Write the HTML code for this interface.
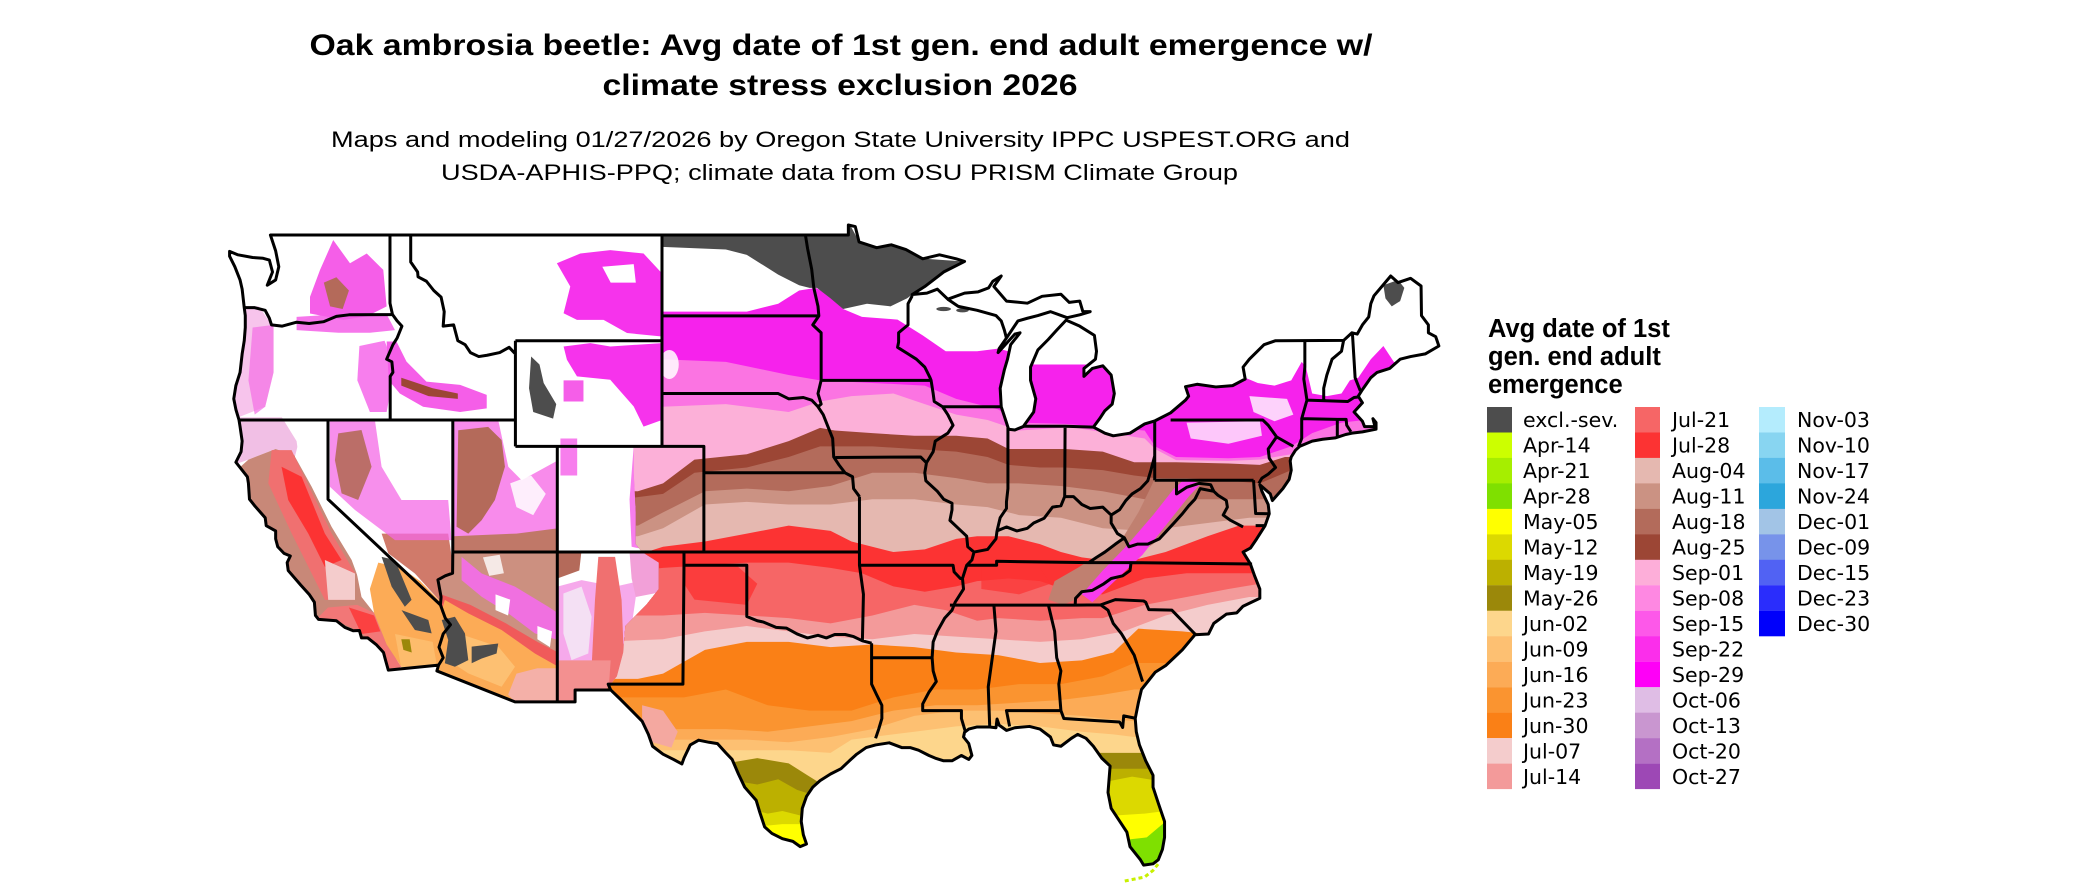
<!DOCTYPE html>
<html><head><meta charset="utf-8"><style>
html,body{margin:0;padding:0;background:#fff;}
svg{display:block;}
.t{font-family:"Liberation Sans",Arial,sans-serif;}
.lg{font-family:"DejaVu Sans","Liberation Sans",sans-serif;font-size:20.5px;fill:#000;}
</style></head><body>
<svg width="2100" height="892" viewBox="0 0 2100 892" xmlns="http://www.w3.org/2000/svg">
<rect width="2100" height="892" fill="#fff"/>
<text class="t" x="841" y="55" font-size="30" font-weight="bold" text-anchor="middle" textLength="1063" lengthAdjust="spacingAndGlyphs">Oak ambrosia beetle: Avg date of 1st gen. end adult emergence w/</text>
<text class="t" x="840" y="95" font-size="30" font-weight="bold" text-anchor="middle" textLength="475" lengthAdjust="spacingAndGlyphs">climate stress exclusion 2026</text>
<text class="t" x="840.5" y="147" font-size="22.5" text-anchor="middle" textLength="1019" lengthAdjust="spacingAndGlyphs">Maps and modeling 01/27/2026 by Oregon State University IPPC USPEST.ORG and</text>
<text class="t" x="839.5" y="180" font-size="22.5" text-anchor="middle" textLength="797" lengthAdjust="spacingAndGlyphs">USDA-APHIS-PPQ; climate data from OSU PRISM Climate Group</text>

<g transform="matrix(20.94 0 0 -26.42 2840.8 1529.6)">
<defs>
<clipPath id="us"><use href="#outl"/></clipPath>
<clipPath id="plains"><polygon points="-104.05,49.5 -66,49.5 -66,24 -107,24 -106.7,31.8 -106.2,32.3 -105.9,33.2 -105.8,34.2 -104.8,35 -104.2,35.6 -104.2,36.6 -105,37 -105.3,37.3 -105.3,38.5 -105.4,40 -105.4,41 -104.05,41"/></clipPath>
</defs>

<g clip-path="url(#us)">
<!-- WEST -->
<polygon fill="#efb4e0" opacity="0.85" points="-124.5,42.1 -122.2,42.1 -121.5,41.2 -121.4,40.6 -122.5,40.9 -123.8,40.5 -124.5,40.3"/>
<polygon fill="#f4b0e6" opacity="0.75" points="-124.6,46.3 -123.3,46.3 -122.6,45.5 -122.6,43.8 -123,42.5 -124.6,42"/>
<polygon fill="#f46ee6" opacity="0.7" points="-123.6,45.5 -122.6,45.6 -122.6,43.8 -123,42.5 -123.5,42.2 -123.8,43.5"/>
<polygon fill="#c88878" points="-123.8,40.5 -122.5,40.9 -121.4,40.6 -120.5,39.5 -119.6,38 -118.7,36.5 -118.4,35.3 -117.4,34.3 -116.9,33.4 -116.6,32.6 -117.3,32.3 -118.5,33.5 -121,34.3 -122.3,36.2 -123.2,37.6 -124.2,38.9 -124.5,40"/>
<polygon fill="#f07070" points="-122.69,40.86 -121.74,40.86 -119.83,37.71 -118.71,36.2 -118.71,35.19 -120.15,35.19 -121.74,37.71 -122.85,39.6"/>
<polygon fill="#fc3333" points="-122.22,40.23 -121.26,39.85 -120.15,37.7 -119.35,36.7 -120.15,36.44 -120.94,37.7 -121.9,38.97"/>
<polygon fill="#f4cccc" points="-120.15,36.7 -118.71,36.19 -118.71,35.19 -119.99,35.19"/>
<polygon fill="#f27777" points="-120,34.9 -118.6,35 -117.8,34.7 -117.2,33.5 -116.5,32.66 -117.12,32.4 -117.9,33.6 -118.5,34 -119.6,34.4 -120.5,34.5"/>
<polygon fill="#fc3333" opacity="0.8" points="-119,34.9 -117.8,34.6 -117.5,34 -118.4,33.9"/>
<polygon fill="#ffffff" points="-121.42,41.11 -120.15,40.1 -119.03,38.59 -118.24,37.2 -117.92,35.69 -118.4,35.69 -118.87,36.7 -119.83,37.96 -120.78,39.47 -121.58,40.61"/>
<polygon fill="#d07a6a" points="-117.44,37.7 -114.26,37.7 -114.02,36.44 -114.6,35.1 -115.85,36.19 -117.12,36.95"/>
<polygon fill="#f46ae6" opacity="0.75" points="-119.91,41.99 -117.76,41.99 -117.44,40.23 -116.49,38.97 -114.26,38.97 -114.1,37.45 -116.8,37.45 -118.71,38.59 -119.91,39.47"/>
<polygon fill="#b46a5a" opacity="0.9" points="-119.51,41.49 -118.4,41.62 -117.92,40.23 -118.56,38.97 -119.35,39.22 -119.67,40.48"/>
<polygon fill="#f66ee6" opacity="0.8" points="-114.02,41.99 -111.87,41.99 -111.39,40.23 -110.75,39.72 -109,40.48 -109,37.07 -114.02,37.07"/>
<polygon fill="#ffffff" opacity="0.85" points="-111.3,39.6 -110.3,39.9 -109.6,39.2 -110.2,38.4 -111,38.7"/>
<polygon fill="#b46a5a" points="-113.78,41.61 -112.35,41.74 -111.71,41.24 -111.55,40.23 -112.03,38.97 -112.66,38.21 -113.3,37.7 -113.86,37.96"/>
<polygon fill="#c07868" points="-114.02,37.6 -111,37.7 -109,37.9 -109,37 -114.02,37"/>
<!-- AZ -->
<polygon fill="#cc9080" points="-114.04,37 -109.05,37 -109.05,31.33 -111.07,31.33 -114.8,32.5 -114.72,32.72 -114.5,33 -114.7,33.4 -114.5,33.9 -114.15,34.25 -114.4,34.5 -114.63,35 -114.6,35.3 -114.75,35.95 -114.4,36.1 -114.05,36.2"/>
<polygon fill="#ffffff" opacity="0.8" points="-112.6,36.8 -111.8,36.9 -111.6,36.2 -112.3,36.1"/>
<polygon fill="#f070e0" points="-113.62,36.82 -112.66,36.19 -111.07,35.69 -109.48,34.93 -109,34.68 -109,33.67 -110.12,33.92 -111.39,34.68 -112.66,35.31 -113.62,35.94"/>
<polygon fill="#ffffff" points="-112,35.4 -111.3,35.2 -111.4,34.6 -112,34.8"/>
<polygon fill="#ffffff" points="-110,34.2 -109.3,34 -109.4,33.4 -110,33.7"/>
<polygon fill="#f05a5a" points="-114.6,35.4 -113.2,35 -111.5,34.3 -110,33.6 -109,33.2 -109,31.33 -111.07,31.33 -114.8,32.5 -114.9,34"/>
<polygon fill="#fcab56" points="-114.42,35.19 -113.3,34.68 -111.71,34.05 -110.12,33.16 -109,32.66 -109,31.34 -111.07,31.34 -114.89,32.53 -114.89,33.92"/>
<polygon fill="#fdc072" points="-114.26,34.05 -111.87,33.42 -111.07,32.66 -111.71,31.9 -113.3,32.41 -114.26,32.91"/>
<polygon fill="#f4b0a8" points="-111,32.4 -110,32.6 -109.05,32.6 -109.05,31.33 -111.07,31.33 -111.4,31.6"/>
<polygon fill="#fcab56" points="-117.6,36.6 -116.5,36.4 -115.6,35.9 -114.6,35.1 -114.6,34.3 -114.89,32.66 -116.5,32.66 -117.2,33.5 -117.8,34.7 -118,35.6"/>
<polygon fill="#fdc072" opacity="0.8" points="-116.8,33.9 -115,33.6 -114.8,32.7 -116.5,32.6"/>
<polygon fill="#4d4d4d" points="-114.57,34.43 -113.94,34.55 -113.46,33.92 -113.3,32.91 -113.94,32.66 -114.42,32.79 -114.26,33.67"/>
<polygon fill="#4d4d4d" points="-113.14,33.42 -111.87,33.54 -111.95,33.16 -112.66,32.97 -113.14,32.79"/>
<polygon fill="#4d4d4d" points="-117.44,36.82 -116.8,36.7 -116.01,35.19 -116.33,34.93 -116.96,35.69"/>
<polygon fill="#4d4d4d" points="-116.49,34.8 -115.21,34.43 -115.05,33.92 -115.85,34.05"/>
<polygon fill="#9b880a" points="-116.5,33.7 -116.1,33.7 -116,33.2 -116.4,33.3"/>
<!-- NM -->
<polygon fill="#f49ae8" opacity="0.85" points="-109.05,37 -105,37 -105.1,36.3 -105.3,35.3 -105.5,34.2 -105.8,33.2 -106.2,32.3 -106.6,31.8 -108.2,31.78 -108.2,31.33 -109.05,31.33"/>
<polygon fill="#ffffff" points="-109.05,37 -104.7,37 -104.9,35.94 -106.29,35.69 -107.89,35.94 -109.05,35.69"/>
<polygon fill="#b46a5a" points="-109.05,37 -107.9,37 -108,36.3 -109.05,36"/>
<polygon fill="#f2a0d8" points="-105.6,37 -104,37 -104,35.5 -105.3,35.3 -105.5,36"/>
<polygon fill="#f07070" points="-107.09,36.82 -106.29,36.82 -105.98,35.19 -105.82,32.03 -106.77,31.4 -107.41,32.66 -107.25,35.19"/>
<polygon fill="#f39090" points="-109.05,32.9 -106.5,32.9 -106.6,31.78 -108.2,31.78 -108.2,31.33 -109.05,31.33"/>
<polygon fill="#f4e0f4" points="-108.76,35.43 -107.89,35.69 -107.41,34.55 -107.57,33.16 -108.37,32.91 -108.76,33.92"/>
<!-- PNW / Rockies -->
<polygon fill="#f55ee8" points="-120.86,46.66 -120.38,47.68 -119.75,48.81 -118.95,47.93 -118.15,48.3 -117.36,47.68 -117.2,46.3 -118.15,45.92 -119.27,45.79 -120.86,46.03"/>
<polygon fill="#b46a5a" points="-120.2,47.2 -119.6,47.4 -119,46.9 -119.3,46.2 -119.9,46.3"/>
<polygon fill="#f55ee8" opacity="0.85" points="-121.5,45.9 -119.5,46 -117.2,46 -116.8,45.4 -118,45.3 -119.5,45.3 -121.5,45.4"/>
<polygon fill="#f55ee8" opacity="0.8" points="-118.5,44.8 -117.3,45 -116.8,44 -117.2,42.3 -118,42.3 -118.6,43.5"/>
<polygon fill="#f55ee8" points="-117.2,44.97 -116.73,44.97 -116.25,44.21 -115.3,43.45 -113.69,43.33 -112.42,42.95 -112.42,42.44 -113.69,42.3 -115.46,42.5 -116.57,43 -117.1,43.5"/>
<polygon fill="#9c4635" points="-116.5,43.6 -115,43.2 -113.8,43 -113.8,42.8 -115.2,42.9 -116.5,43.3"/>
<polygon fill="#f633ec" points="-109.07,47.93 -107.95,48.3 -106.52,48.43 -104.93,48.3 -104.05,47.55 -104.05,45.16 -105.72,45.29 -106.84,45.79 -108.11,45.79 -108.75,46.04 -108.43,47.05"/>
<polygon fill="#ffffff" points="-106.9,47.8 -105.4,47.9 -105.3,47.2 -106.5,47.2"/>
<polygon fill="#f633ec" points="-108.75,44.78 -107.47,44.91 -106.52,44.78 -104.05,44.91 -104.05,42 -104.93,41.75 -105.4,42.51 -106.52,43.52 -108.11,43.65 -108.59,44.28"/>
<polygon fill="#f55ee8" points="-108.75,43.5 -107.8,43.5 -107.8,42.7 -108.75,42.7"/>
<polygon fill="#4d4d4d" points="-110.3,44.4 -109.9,44.1 -109.7,43.4 -109.1,42.6 -109.25,42.05 -110.2,42.3 -110.4,43.2"/>
<polygon fill="#f55ee8" opacity="0.8" points="-108.9,41.3 -108.1,41.3 -108.1,39.9 -108.9,39.9"/>
<polygon fill="#f55ee8" opacity="0.8" points="-105.4,41 -104.9,41 -104.9,37.1 -105.5,37.2 -105.6,39"/>

<!-- PLAINS / EAST -->
<g clip-path="url(#plains)">
<polygon fill="#f622ec" points="-107,46.1 -104.05,46.1 -100,46.1 -98.5,46.4 -97.5,46.9 -96.7,47 -96,46.7 -95.4,46.2 -94.5,45.9 -92.8,45.8 -91.6,45.2 -90.5,44.6 -89,44.6 -88,44.7 -87.5,44.6 -86.5,44.1 -83,44.1 -82.4,43.9 -80.5,43.3 -77.5,43.4 -76.2,43.6 -75.6,43.4 -74.8,43.3 -74,43.5 -73.5,44.2 -73.3,44 -73,43 -72.3,42.9 -71.6,43 -71.2,43.5 -70.8,43.6 -70.2,44.3 -69.6,44.8 -69.1,44.2 -68,43.9 -66,43.9 -66,24 -107,24"/>
<polygon fill="#fb74e2" points="-107,44.3 -104.05,44.3 -101,44.2 -98,43.7 -96.5,43.5 -94,43.4 -91.5,43.3 -90,42.8 -88,42.4 -87,41.9 -84.8,41.85 -82.5,41.7 -81,41.6 -80.5,41 -79.5,40.6 -77,40.55 -75.5,40.6 -74,41 -73,41.5 -71.6,41.9 -70.5,42 -66,42 -66,24 -107,24"/>
<polygon fill="#fcb0d8" points="-107,42.5 -104.05,42.5 -101,42.6 -98,42.3 -96.5,42.7 -95,42.9 -93,43 -91.5,42.6 -90,42.2 -88.5,42 -87,41.6 -85,41.7 -84.8,41.76 -83.5,41.6 -81,41.3 -80.5,40.9 -79.5,40.48 -77,40.45 -75.5,40.5 -74,40.7 -72,41.2 -66,41.2 -66,24 -107,24"/>
<polygon fill="#9c4635" points="-107,39.3 -105.2,39.3 -104,39.6 -102.5,40.5 -100,40.7 -98,41.2 -96.5,41.7 -95.8,41.6 -94,41.5 -92,41.4 -90,41.4 -88.5,41.3 -87.5,40.9 -86,40.9 -84.8,40.9 -83,40.8 -81.5,40.4 -80.5,40.4 -79.5,40.4 -77,40.35 -75.5,40.3 -74.3,40.6 -66,40.6 -66,24 -107,24"/>
<polygon fill="#b36b5b" points="-107,38.9 -104,39.2 -102.5,40 -100,40.2 -98,40.6 -96.5,41 -94,41 -92,40.9 -90,40.8 -88.5,40.6 -87.5,40.3 -86,40.2 -84.8,40.2 -83,40.1 -81.5,39.9 -80.5,39.8 -79,39.8 -77,39.7 -75.5,39.6 -74,40.1 -66,40.1 -66,24 -107,24"/>
<polygon fill="#cb9283" points="-107,38 -105.2,38 -104,38.5 -102,39.3 -100,39.4 -98,39.3 -96,39.5 -94,40 -92,40 -90,39.8 -88.5,39.6 -87,39.6 -85,39.5 -83,39.3 -81,39 -79,39 -77,39 -75,39 -66,39 -66,24 -107,24"/>
<polygon fill="#e5b8b0" points="-107,37.6 -105.2,37.6 -104,37.9 -102,38.8 -100,38.9 -98,38.8 -96,38.8 -94,39 -92,39 -90,38.8 -88.5,38.7 -87,38.4 -85,38.3 -83,37.9 -81,37.8 -79,38 -77,38.2 -76,38.3 -66,38.3 -66,24 -107,24"/>
<polygon fill="#fc3333" points="-107,36.9 -105.2,36.9 -104,37.2 -102,37.4 -100,37.7 -98,38 -96,37.8 -95,37.4 -93,37 -91.5,37.1 -90,37.5 -89,37.6 -87.5,37.6 -86,37.3 -85,37 -84,36.8 -82,36.6 -80,37 -78,37.6 -76.5,38 -75.5,38 -66,38 -66,24 -107,24"/>
<polygon fill="#f66666" points="-107,36.3 -105.2,36.3 -104,36.4 -102,36.5 -100,36.6 -98,36.6 -96,36.4 -94.5,36.2 -93,35.7 -91.5,35.5 -90,35.7 -89,35.9 -87.5,36 -86,35.9 -84.5,35.5 -83,35.4 -81,36 -79,36.2 -77,36.2 -76,36.2 -66,36.2 -66,24 -107,24"/>
<polygon fill="#fc3333" opacity="0.8" points="-103,36.5 -100.5,36.5 -99.5,35.8 -100,35 -102.5,35.2 -103,35.8"/>
<polygon fill="#fc3333" opacity="0.7" points="-88.8,36.4 -86,36.4 -85.5,35.8 -87,35.4 -88.8,35.6"/>
<polygon fill="#f39a9a" points="-107,34.6 -104,34.6 -102,34.7 -100,34.6 -98,34.5 -96,34.3 -94,34.6 -92,35 -90.5,34.8 -89,34.4 -88,34.5 -86,34.4 -84,34.5 -83,34.5 -81,35 -79,35.3 -77,35.6 -75.5,35.8 -66,35.8 -66,24 -107,24"/>
<polygon fill="#f4cccc" points="-107,33.6 -104,33.7 -102,34 -100,34.2 -98,34 -96,33.8 -94,33.7 -92,33.9 -90,33.8 -88,33.7 -86,33.6 -84,33.7 -82,34 -80,34.6 -78,35 -76,35.3 -66,35.3 -66,24 -107,24"/>
<polygon fill="#fa8016" points="-107,32.2 -105.2,32.2 -104,32.4 -102,33.3 -100,33.6 -98,33.6 -96,33.4 -94,33.5 -92,33.4 -90,33.2 -88,33.1 -86,32.8 -84,32.9 -82.5,33.2 -81.3,34.1 -79.2,34 -78,33.9 -66,33.9 -66,24 -107,24"/>
<polygon fill="#fa9430" points="-107,31.5 -103,31.5 -101,31.8 -99,31.2 -97,31 -95,31 -93,31.5 -91,31.8 -89,31.8 -87,32 -85,32 -83,32.3 -81.5,32.8 -66,32.8 -66,24 -107,24"/>
<polygon fill="#fcab56" points="-107,30.3 -101,30.3 -99,30.2 -97,30.4 -95,30.6 -93,31 -91,31.2 -89,31.2 -87,31.3 -85,31.4 -83,31.6 -81.5,31.8 -66,31.8 -66,24 -107,24"/>
<polygon fill="#fdc072" points="-107,29.9 -100,29.9 -98,29.8 -96,30 -94,30.3 -92,30.8 -90,31 -88,31 -86,30.9 -84,30.8 -83,30.7 -81.5,30.6 -66,30.6 -66,24 -107,24"/>
<polygon fill="#fdd68c" points="-107,29.5 -100,29.5 -98,29.5 -96,29.4 -95,29.9 -94,30 -92,30.2 -90,30.4 -88,30.5 -86,30.4 -84,30.2 -82.5,30.1 -81.5,30 -66,30 -66,24 -107,24"/>
<polygon fill="#f4a8a0" points="-105,31.2 -104,31 -103.3,30.2 -103.6,29.6 -104.5,29.8 -105,30.6"/>
<!-- S TX -->
<polygon fill="#9b880a" points="-101,29 -99.5,29.2 -98,29 -97.2,28.6 -96.6,28.3 -96.6,25.5 -101,25.5"/>
<polygon fill="#bcb000" points="-101,28.4 -99.5,28.2 -98.5,28.4 -97.6,28 -96.8,27.8 -96.6,25.5 -101,25.5"/>
<polygon fill="#dcd900" points="-101,27.5 -99,27.1 -98.3,27.2 -97.3,27 -96.6,27 -96.6,25.5 -101,25.5"/>
<polygon fill="#ffff00" points="-101,26.5 -98.3,26.7 -97,26.7 -96.6,25.5 -101,25.5"/>
<!-- FL -->
<polygon fill="#9b880a" points="-83.5,29.4 -80,29.4 -80,24 -83.5,24"/>
<polygon fill="#bcb000" points="-83.5,28.8 -80,28.8 -80,24 -83.5,24"/>
<polygon fill="#dcd900" points="-81.6,28.5 -80,28.3 -80,24 -83.5,24 -83.5,28.2"/>
<polygon fill="#ffff00" points="-83,27 -81,27.1 -80,27.2 -80,24 -83,24"/>
<polygon fill="#7fe000" points="-82,26.1 -80.9,26.2 -80,26.8 -80,24 -82,24"/>
<!-- Appalachians -->
<polygon fill="#c08070" points="-80.5,39.8 -78.3,39.7 -78.6,38.9 -79.6,38 -80.6,37.3 -81.8,36.7 -83,36 -84.3,35.2 -84.9,35 -85.6,35.2 -85.3,35.9 -84.2,36.4 -83,37 -82,37.6 -81.3,38.5 -80.8,39.3"/>
<polygon fill="#f83cec" points="-79.1,39.75 -79.6,39.4 -80.6,38.4 -81.9,37.2 -83,36.3 -84,35.4 -83.5,35.1 -82.3,36 -81.1,36.9 -79.9,38.1 -78.9,39.1 -78.3,39.6"/>
<!-- white patches -->
<polygon fill="#ffffff" opacity="0.75" points="-79,41.9 -75.5,41.95 -75.4,41.4 -77,41.1 -78.8,41.3"/>
<polygon fill="#ffffff" opacity="0.8" points="-76,42.9 -74.2,42.8 -73.9,42.2 -74.8,41.95 -75.8,42.3"/>
<ellipse fill="#ffffff" opacity="0.85" cx="-103.7" cy="44.1" rx="0.45" ry="0.55"/>
<!-- gray exclusion -->
<polygon fill="#4d4d4d" points="-104.05,49.5 -95.15,49.5 -94.6,48.7 -93,48.6 -91.5,48.1 -89.6,48 -90.6,47.6 -91.5,47.05 -92.1,46.75 -92.35,46.6 -93.14,46.3 -94.26,46.4 -95.4,46.2 -96,46.6 -96.65,47 -97,47 -97.5,47.1 -98.5,47.5 -99.3,47.9 -100,48.25 -101,48.45 -104.05,48.55"/>
<ellipse fill="#4d4d4d" cx="-90.6" cy="46.2" rx="0.35" ry="0.08"/>
<ellipse fill="#4d4d4d" cx="-89.7" cy="46.15" rx="0.3" ry="0.08"/>
<polygon fill="#4d4d4d" points="-69.6,47.1 -68.9,47.3 -68.6,47 -68.8,46.5 -69.2,46.3 -69.5,46.6"/>
</g>
</g>

<path d="M-81.95 24.55L-81.5 24.62L-81 24.7L-80.6 24.95L-80.35 25.2" fill="none" stroke="#c8f000" stroke-width="3" stroke-dasharray="4 3" vector-effect="non-scaling-stroke"/>

<!-- state borders -->
<path fill="none" stroke="#000" stroke-width="3" stroke-linejoin="round" vector-effect="non-scaling-stroke" d="
M-124 46.25L-123.5 46.25L-123 46.15L-122.8 45.85L-122.7 45.6L-122.2 45.55L-121.5 45.7L-120.9 45.65L-120.2 45.72L-119.6 45.92L-119 45.98L-116.92 45.99
M-117.04 49L-117.04 46.42L-116.92 45.99
M-116.92 45.99L-116.7 45.75L-116.47 45.55L-116.7 45.1L-116.9 44.85L-117.2 44.3L-116.95 44.2L-116.9 43.8L-117.03 43.65L-117.03 42
M-124.21 42L-111.05 42
M-116.05 49L-116.05 47.98L-115.72 47.6L-115.7 47.42L-115.3 47.25L-114.95 46.9L-114.6 46.65L-114.45 46.1L-114.5 45.55L-114 45.6L-113.8 45L-113.45 44.85L-113.2 44.55L-112.8 44.4L-112.4 44.45L-111.8 44.55L-111.35 44.75L-111.05 44.5
M-111.05 45L-111.05 41
M-111.05 45L-104.05 45
M-104.05 49L-104.05 41
M-104.05 45.94L-96.56 45.94
M-104.05 43L-98.5 43L-98 42.8L-97.3 42.85L-96.9 42.75L-96.6 42.5
M-111.05 41L-102.05 41L-102.05 40L-95.31 40
M-109.05 41L-109.05 31.33
M-114.04 42L-114.04 37L-114.05 36.2L-114.4 36.1L-114.75 35.95L-114.6 35.3L-114.63 35
M-120 42L-120 39L-114.63 35
M-114.63 35L-114.4 34.5L-114.15 34.25L-114.5 33.9L-114.7 33.4L-114.5 33L-114.72 32.72
M-114.04 37L-94.62 37
M-102.05 40L-102.05 37
M-103 37L-103 36.5L-103.05 32L-106.62 32L-106.5 31.78
M-103 36.5L-100 36.5L-100 34.56L-99.5 34.4L-99.2 34.35L-98.6 34.15L-98.1 34.12L-97.6 33.9L-97.1 33.75L-96.6 33.85L-96.2 33.75L-95.8 33.88L-95.3 33.88L-94.9 33.8L-94.48 33.64L-94.04 33.55
M-94.62 39.1L-94.62 36.5L-94.43 35.4L-94.48 33.64
M-94.04 33.55L-94.04 33L-91.15 33
M-94.04 33L-94.04 32L-93.8 31.6L-93.55 31.2L-93.55 30.7L-93.7 30.3L-93.85 29.95
M-94.62 36.5L-90.15 36.5L-90.1 36.25L-89.8 36L-89.7 36
M-92.1 46.7L-92.3 46.4L-92.3 45.6L-92.75 45.3L-92.75 44.95L-92.8 44.75L-92.3 44.5L-91.9 44.3L-91.5 44L-91.25 43.6L-91.2 43.5L-91.1 43L-91.05 42.7L-90.65 42.5L-90.4 42.2L-90.15 41.8L-90.4 41.5L-91 41.2L-91.1 40.8L-91.42 40.38L-91.5 40L-91.45 39.7L-90.9 39.3L-90.6 39L-90.2 38.85L-90.2 38.6L-90.3 38.2L-89.9 37.9L-89.5 37.6L-89.45 37.2L-89.15 37L-89.25 36.7L-89.5 36.5L-89.7 36L-89.65 35.6L-90.05 35.1L-90.2 34.8L-90.55 34.5L-90.9 34L-91.1 33.6L-91.15 33L-91.1 32.5L-90.95 32.1L-91.3 31.7L-91.6 31.25L-91.6 31L-89.75 31L-89.75 30.7L-89.6 30.3L-89.55 30.18
M-97.2 49L-97.1 48.5L-96.9 47.7L-96.8 47L-96.6 46.3L-96.56 45.94L-96.85 45.6L-96.45 45.3L-96.45 43.5L-91.22 43.5
M-96.45 43.5L-96.6 43L-96.45 42.6L-96.6 42.5L-96.35 42.2L-96.1 41.7L-95.9 41.3L-95.85 40.6L-95.6 40.3L-95.31 40L-94.95 39.85L-94.9 39.4L-94.62 39.1
M-95.77 40.58L-91.7 40.6L-91.42 40.38
M-90.4 46.57L-89.9 46.3L-89 46.15L-88.1 45.95L-87.85 45.75L-87.7 45.4L-87.6 45.1
M-90.64 42.5L-87.8 42.5
M-87.53 41.7L-87.53 39.4L-87.6 38.9L-87.6 38.65L-87.9 38.3L-88.05 37.8
M-89.15 37L-88.5 37.1L-88.1 37.5L-88.05 37.8L-87.6 37.95L-87.1 37.8L-86.6 37.9L-86.3 38.1L-85.8 38.28L-85.4 38.7L-85 38.75L-84.82 39.1L-84.4 39.1L-84 38.8L-83.6 38.65L-83 38.7L-82.6 38.4L-82.2 38.6L-81.9 38.95L-81.6 39.2L-81.2 39.4L-80.85 39.7L-80.7 40.1L-80.6 40.4L-80.52 40.64
M-84.82 39.1L-84.8 41.7
M-86.8 41.76L-84.8 41.76L-83.45 41.73
M-80.52 41.97L-80.52 39.72
M-80.52 39.72L-75.8 39.72
M-79.76 42L-75.36 42L-75.1 41.8L-74.7 41.36L-73.9 41
M-74.7 41.36L-75.1 40.9L-75.05 40.55L-74.75 40.2L-75.1 39.95L-75.4 39.8L-75.55 39.6
M-79.48 39.72L-79.48 39.2L-79 39.45L-78.4 39.6L-77.85 39.55L-77.7 39.3L-77.5 39.15L-77.1 38.95L-77.05 38.7L-77.25 38.4L-76.9 38.2L-76.3 37.95
M-77.7 39.3L-78.35 39.4L-78.6 39L-78.9 38.75L-79.2 38.45L-79.6 38.1L-79.95 37.8L-80.3 37.5L-80.85 37.3L-81.35 37.3L-81.75 37.2L-81.97 37.54L-82.3 37.7L-82.6 38.1L-82.6 38.4
M-81.97 37.54L-82.4 37.3L-82.9 37L-83.3 36.8L-83.67 36.6
M-75.87 36.55L-81.65 36.6L-83.67 36.6L-88.07 36.65L-88.07 36.5L-89.5 36.5
M-81.65 36.6L-81.7 36.3L-82.05 36.1L-82.6 36L-82.95 35.8L-83.5 35.55L-84 35.5L-84.3 35.25L-84.32 34.99
M-84.32 34.99L-90.3 34.99
M-84.32 34.99L-83.1 35L-82.4 35.2L-81.05 35.15L-80.95 35.1L-80.8 34.82L-79.7 34.8L-78.55 33.86
M-83.1 35L-82.75 34.8L-82.5 34.3L-82.1 33.9L-81.8 33.5L-81.5 33.1L-81.3 32.6L-81.1 32.1
M-85.6 35L-85.3 34L-85.2 33L-85 32.5L-85.1 32L-85 31
M-85 31L-84.86 30.7L-83.5 30.63L-82.2 30.57L-82.05 30.36L-82 30.8L-81.5 30.72
M-85 31L-87.6 31L-87.45 30.4
M-88.2 34.99L-88.1 34L-88.47 31.9L-88.4 30.4
M-73.35 45.01L-73.35 44L-73.4 43.55L-73.25 42.75L-73.5 42.05L-73.5 41.3L-73.65 41
M-71.5 45.01L-71.6 44.6L-72.05 44.3L-72.3 43.7L-72.45 43.2L-72.45 42.73
M-73.25 42.75L-71.3 42.7L-71 42.85L-70.8 42.87
M-71.08 45.3L-70.98 44L-70.95 43.6L-70.7 43.1
M-73.5 42.05L-71.8 42.02L-71.38 42.02L-71.35 41.8L-71.15 41.55
M-71.8 42.02L-71.8 41.33
M-75.8 39.72L-75.7 38.46L-75.05 38.45
M-75.7 38L-75.25 38"/>
<path id="outl" fill="none" stroke="#000" stroke-width="3" stroke-linejoin="round" vector-effect="non-scaling-stroke" d="M-122.75 49L-95.15 49L-95.15 49.38L-94.82 49.32L-94.64 48.74L-93.8 48.52L-93.1 48.63L-92.4 48.45L-91.6 48.1L-90.8 48.25L-90 48.1L-89.6 48L-90.6 47.6L-91.5 47.05L-92.1 46.75L-91.4 46.8L-90.9 46.95L-90.4 46.57L-89.6 46.8L-88.95 46.85L-88.45 47L-88.25 47.25L-87.85 47.45L-88.2 47.05L-87.6 46.5L-86.6 46.42L-85.9 46.68L-85 46.76L-84.6 46.45L-84.1 46.5L-83.95 46.1L-83.6 46.1L-84.1 45.98L-84.7 45.87L-85.5 46.1L-86.1 45.95L-86.6 45.85L-87.05 45.75L-87.6 45.1L-87.95 44.7L-88 44.55L-87.6 44.9L-87.2 45.25L-86.95 45.3L-87.4 44.85L-87.55 44.3L-87.7 43.9L-87.9 43.2L-87.85 42.5L-87.6 41.9L-87.5 41.65L-87.2 41.62L-86.8 41.75L-86.3 42.3L-86.2 42.8L-86.45 43.5L-86.45 44L-86.1 44.65L-85.6 45.05L-85.2 45.4L-84.75 45.78L-84.1 45.55L-83.4 45.2L-83.3 44.6L-83.35 44.3L-83.9 43.95L-83.9 43.65L-83.5 43.95L-83 44.05L-82.6 43.7L-82.45 43L-82.55 42.6L-82.9 42.35L-83.15 42.05L-83.45 41.73L-82.9 41.5L-82.5 41.4L-81.7 41.5L-81 41.85L-80.5 41.97L-79.76 42.27L-79.05 42.75L-78.9 42.9L-79.05 43.26L-78.5 43.35L-77.6 43.25L-76.8 43.3L-76.2 43.55L-76.3 44L-76 44.3L-75.3 44.85L-74.75 45L-71.5 45.01L-71.1 45.3L-70.85 45.25L-70.6 45.6L-70.3 45.9L-70.2 46.4L-70.05 46.7L-69.25 47.45L-68.9 47.2L-68.3 47.36L-67.8 47.07L-67.78 45.95L-67.45 45.6L-67.45 45.3L-67.1 45.15L-66.95 44.8L-67.6 44.5L-68.3 44.4L-68.8 44.3L-69.3 43.95L-69.9 43.8L-70.2 43.6L-70.6 43.15L-70.8 42.9L-70.6 42.65L-71 42.3L-70.6 41.95L-70.5 41.75L-70 41.75L-70.1 42.05L-69.95 41.9L-69.95 41.65L-70.6 41.55L-71.1 41.5L-71.4 41.45L-71.9 41.32L-72.5 41.27L-73 41.2L-73.6 41L-73.8 40.85L-74 40.6L-74.05 40.45L-74 40.1L-74.1 39.75L-74.4 39.4L-74.9 38.95L-75 39.2L-75.5 39.55L-75.4 39.3L-75.1 38.8L-75.05 38.45L-75.25 38L-75.65 37.5L-75.95 37.15L-76.3 37L-75.95 36.55L-75.75 36.1L-75.5 35.6L-75.5 35.25L-75.9 35.1L-76.3 34.95L-76.6 34.7L-77.1 34.65L-77.7 34.3L-77.95 33.9L-78.6 33.87L-79.2 33.3L-79.6 33L-80 32.7L-80.5 32.45L-80.85 32.1L-81.15 31.8L-81.3 31.3L-81.45 30.7L-81.4 30.2L-81.25 29.7L-80.95 29.1L-80.6 28.55L-80.6 28.1L-80.35 27.5L-80.05 26.8L-80.05 26.2L-80.15 25.75L-80.35 25.35L-80.6 25.2L-81.05 25.15L-81.2 25.35L-81.7 25.85L-81.85 26.4L-82.1 26.7L-82.6 27.3L-82.75 27.9L-82.7 28.4L-82.65 28.9L-83.05 29.2L-83.45 29.65L-83.8 29.95L-84.2 30.1L-84.5 29.95L-85 29.65L-85.35 29.7L-85.5 30L-86 30.3L-86.5 30.4L-87.2 30.35L-87.6 30.25L-87.95 30.45L-88.05 30.68L-88.1 30.35L-88.4 30.38L-89 30.38L-89.4 30.3L-89.6 30.18L-89.65 30L-89.4 29.75L-89.25 29.3L-89.4 29.15L-89.75 29.3L-90.2 29.1L-90.6 29.1L-91 29.2L-91.3 29.3L-91.8 29.5L-92.2 29.6L-92.6 29.6L-93.2 29.78L-93.85 29.7L-94.3 29.6L-94.75 29.35L-95.1 29.1L-95.5 28.8L-96 28.6L-96.5 28.35L-96.85 28.1L-97.15 27.75L-97.35 27.3L-97.4 26.8L-97.3 26.3L-97.15 25.95L-97.45 25.85L-97.8 26.05L-98.3 26.15L-98.8 26.35L-99.15 26.6L-99.4 27.2L-99.55 27.6L-100.1 28.1L-100.4 28.6L-100.7 29.15L-101 29.4L-101.4 29.75L-101.8 29.8L-102.3 29.88L-102.7 29.7L-103 29.2L-103.1 28.98L-103.5 29.15L-104 29.35L-104.5 29.65L-104.7 30.1L-105 30.6L-105.5 31L-106 31.4L-106.5 31.78L-108.2 31.78L-108.2 31.33L-111.07 31.33L-114.8 32.5L-114.72 32.72L-117.12 32.53L-117.25 32.9L-117.35 33.2L-117.7 33.5L-118.1 33.75L-118.4 33.75L-118.5 34.03L-118.8 34.02L-119.2 34.15L-119.6 34.4L-120.45 34.45L-120.6 34.6L-120.65 35.1L-120.9 35.4L-121.3 35.75L-121.9 36.3L-121.95 36.6L-121.8 36.85L-122.1 36.95L-122.4 37.2L-122.5 37.5L-122.5 37.8L-122.95 38L-123 38.3L-123.5 38.75L-123.75 39L-123.8 39.6L-123.85 39.85L-124.1 40.1L-124.4 40.4L-124.15 40.8L-124.1 41.2L-124.2 41.75L-124.25 42L-124.4 42.4L-124.5 42.8L-124.4 43.3L-124.2 43.8L-124.1 44.5L-124 45L-123.95 45.5L-123.95 45.95L-124 46.25L-124.05 46.6L-124.1 46.95L-124.2 47.3L-124.45 47.8L-124.7 48.2L-124.7 48.38L-124.3 48.25L-123.6 48.15L-123.1 48.12L-122.8 48.05L-122.65 47.6L-122.9 47.1L-122.5 47.3L-122.35 47.8L-122.5 48.4L-122.75 49Z"/>
</g>

<!-- LEGEND -->
<g class="t" font-weight="bold" font-size="25.5">
<text x="1488" y="337">Avg date of 1st</text>
<text x="1488" y="365">gen. end adult</text>
<text x="1488" y="393">emergence</text>
</g>
<g>
<rect x="1487" y="407" width="25" height="25.6" fill="#4d4d4d"/>
<rect x="1487" y="432.5" width="25" height="25.6" fill="#ccff00"/>
<rect x="1487" y="457.9" width="25" height="25.6" fill="#a6ee00"/>
<rect x="1487" y="483.4" width="25" height="25.6" fill="#7fe000"/>
<rect x="1487" y="508.9" width="25" height="25.6" fill="#ffff00"/>
<rect x="1487" y="534.4" width="25" height="25.6" fill="#dcd900"/>
<rect x="1487" y="559.8" width="25" height="25.6" fill="#bcb000"/>
<rect x="1487" y="585.3" width="25" height="25.6" fill="#9b880a"/>
<rect x="1487" y="610.8" width="25" height="25.6" fill="#fdd68c"/>
<rect x="1487" y="636.2" width="25" height="25.6" fill="#fdc072"/>
<rect x="1487" y="661.7" width="25" height="25.6" fill="#fcab56"/>
<rect x="1487" y="687.2" width="25" height="25.6" fill="#fa9430"/>
<rect x="1487" y="712.6" width="25" height="25.6" fill="#fa8016"/>
<rect x="1487" y="738.1" width="25" height="25.6" fill="#f4cccc"/>
<rect x="1487" y="763.6" width="25" height="25.5" fill="#f39a9a"/>

<rect x="1635" y="407" width="25" height="25.6" fill="#f66666"/>
<rect x="1635" y="432.5" width="25" height="25.6" fill="#fc3333"/>
<rect x="1635" y="457.9" width="25" height="25.6" fill="#e5b8b0"/>
<rect x="1635" y="483.4" width="25" height="25.6" fill="#cb9283"/>
<rect x="1635" y="508.9" width="25" height="25.6" fill="#b36b5b"/>
<rect x="1635" y="534.4" width="25" height="25.6" fill="#9c4635"/>
<rect x="1635" y="559.8" width="25" height="25.6" fill="#fdaed9"/>
<rect x="1635" y="585.3" width="25" height="25.6" fill="#fe88e2"/>
<rect x="1635" y="610.8" width="25" height="25.6" fill="#fd58e9"/>
<rect x="1635" y="636.2" width="25" height="25.6" fill="#fb2eeb"/>
<rect x="1635" y="661.7" width="25" height="25.6" fill="#fe00f7"/>
<rect x="1635" y="687.2" width="25" height="25.6" fill="#dfbde5"/>
<rect x="1635" y="712.6" width="25" height="25.6" fill="#c996d0"/>
<rect x="1635" y="738.1" width="25" height="25.6" fill="#b470c4"/>
<rect x="1635" y="763.6" width="25" height="25.5" fill="#9d48b5"/>

<rect x="1759" y="407" width="26" height="25.6" fill="#b4ecfd"/>
<rect x="1759" y="432.5" width="26" height="25.6" fill="#88d5f1"/>
<rect x="1759" y="457.9" width="26" height="25.6" fill="#5bbde9"/>
<rect x="1759" y="483.4" width="26" height="25.6" fill="#2ca6dc"/>
<rect x="1759" y="508.9" width="26" height="25.6" fill="#a2c4e6"/>
<rect x="1759" y="534.4" width="26" height="25.6" fill="#7793ea"/>
<rect x="1759" y="559.8" width="26" height="25.6" fill="#5162f3"/>
<rect x="1759" y="585.3" width="26" height="25.6" fill="#2a2dfc"/>
<rect x="1759" y="610.8" width="26" height="25.5" fill="#0000fb"/>
</g>
<g class="lg">
<text x="1523" y="427.2">excl.-sev.</text>
<text x="1523" y="452.7">Apr-14</text>
<text x="1523" y="478.1">Apr-21</text>
<text x="1523" y="503.6">Apr-28</text>
<text x="1523" y="529.1">May-05</text>
<text x="1523" y="554.6">May-12</text>
<text x="1523" y="580">May-19</text>
<text x="1523" y="605.5">May-26</text>
<text x="1523" y="631">Jun-02</text>
<text x="1523" y="656.4">Jun-09</text>
<text x="1523" y="681.9">Jun-16</text>
<text x="1523" y="707.4">Jun-23</text>
<text x="1523" y="732.8">Jun-30</text>
<text x="1523" y="758.3">Jul-07</text>
<text x="1523" y="783.8">Jul-14</text>

<text x="1672" y="427.2">Jul-21</text>
<text x="1672" y="452.7">Jul-28</text>
<text x="1672" y="478.1">Aug-04</text>
<text x="1672" y="503.6">Aug-11</text>
<text x="1672" y="529.1">Aug-18</text>
<text x="1672" y="554.6">Aug-25</text>
<text x="1672" y="580">Sep-01</text>
<text x="1672" y="605.5">Sep-08</text>
<text x="1672" y="631">Sep-15</text>
<text x="1672" y="656.4">Sep-22</text>
<text x="1672" y="681.9">Sep-29</text>
<text x="1672" y="707.4">Oct-06</text>
<text x="1672" y="732.8">Oct-13</text>
<text x="1672" y="758.3">Oct-20</text>
<text x="1672" y="783.8">Oct-27</text>

<text x="1797" y="427.2">Nov-03</text>
<text x="1797" y="452.7">Nov-10</text>
<text x="1797" y="478.1">Nov-17</text>
<text x="1797" y="503.6">Nov-24</text>
<text x="1797" y="529.1">Dec-01</text>
<text x="1797" y="554.6">Dec-09</text>
<text x="1797" y="580">Dec-15</text>
<text x="1797" y="605.5">Dec-23</text>
<text x="1797" y="631">Dec-30</text>
</g>
</svg>
</body></html>
